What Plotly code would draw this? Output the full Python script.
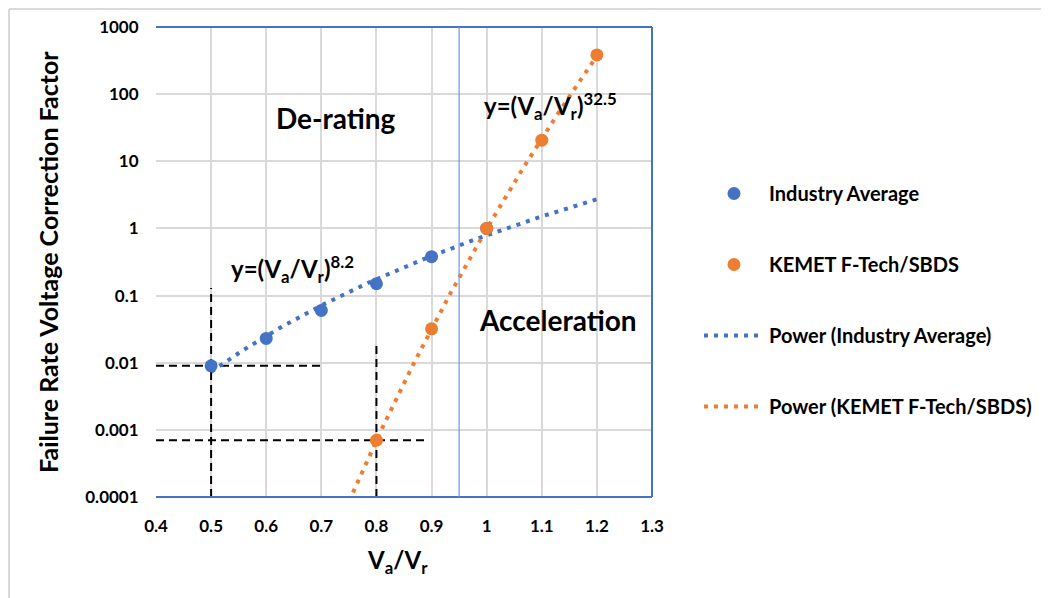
import numpy as np
import plotly.graph_objects as go

# ---------------- data ----------------
industry_ratio = [0.5, 0.6, 0.7, 0.8, 0.9, 1.0]
industry_avg = [0.009, 0.023, 0.06, 0.15, 0.38, 1.0]

kemet_ratio = [0.8, 0.9, 1.0, 1.1, 1.2]
kemet_vals = [0.0007, 0.032, 1.0, 20.6, 384.0]

industry_trend_span = [0.5, 1.2]
kemet_trend_span = [0.75, 1.2]

x_tick_vals = [0.4, 0.5, 0.6, 0.7, 0.8, 0.9, 1.0, 1.1, 1.2, 1.3]
x_tick_text = ["0.4", "0.5", "0.6", "0.7", "0.8", "0.9", "1", "1.1", "1.2", "1.3"]
y_tick_vals = [0.0001, 0.001, 0.01, 0.1, 1, 10, 100, 1000]
y_tick_text = ["0.0001", "0.001", "0.01", "0.1", "1", "10", "100", "1000"]

# dashed guide lines
guide_v05_x, guide_v05_y = [0.5, 0.5], [0.0001, 0.13]
guide_h09_x, guide_h09_y = [0.4, 0.7], [0.009, 0.009]
guide_h07_x, guide_h07_y = [0.4, 0.89], [0.0007, 0.0007]
guide_v08_x, guide_v08_y = [0.8, 0.8], [0.0001, 0.021]

boundary_ratio = 0.95

BLUE = "#4472C4"
ORANGE = "#ED7D31"
FONT = "Lato"

# figure geometry (page body has an 8px margin)
W, H = 1041, 590
ML, MR, MT, MB = 148, 397, 19, 101
PW, PH = W - ML - MR, H - MT - MB


def power_fit(xs, ys, span):
    k, c = np.polyfit(np.log(xs), np.log(ys), 1)
    xx = np.linspace(span[0], span[1], 200)
    return xx, np.exp(c) * xx ** k


fig = go.Figure()

fig.add_trace(go.Scatter(x=industry_ratio, y=industry_avg, mode="markers",
                         name="Industry Average", legendgroup="a",
                         marker=dict(color=BLUE, size=13), zorder=3))
fig.add_trace(go.Scatter(x=kemet_ratio, y=kemet_vals, mode="markers",
                         name="KEMET F-Tech/SBDS", legendgroup="b",
                         marker=dict(color=ORANGE, size=13), zorder=4))

tx, ty = power_fit(industry_ratio, industry_avg, industry_trend_span)
fig.add_trace(go.Scatter(x=tx, y=ty, mode="lines", name="Power (Industry Average)",
                         legendgroup="c",
                         line=dict(color=BLUE, width=4, dash="4px,6px"), zorder=1))
tx, ty = power_fit(kemet_ratio, kemet_vals, kemet_trend_span)
fig.add_trace(go.Scatter(x=tx, y=ty, mode="lines", name="Power (KEMET F-Tech/SBDS)",
                         legendgroup="d",
                         line=dict(color=ORANGE, width=4, dash="4px,6px"), zorder=1))

for gx, gy in [(guide_v05_x, guide_v05_y), (guide_h09_x, guide_h09_y),
               (guide_h07_x, guide_h07_y), (guide_v08_x, guide_v08_y)]:
    fig.add_trace(go.Scatter(x=gx, y=gy, mode="lines", showlegend=False,
                             hoverinfo="skip",
                             line=dict(color="black", width=2, dash="8px,5px"), zorder=0))

border_x = (1 - ML) / PW
border_y = 1 + (MT - 1) / PH
shapes = [
    # plot frame (blue)
    dict(type="line", xref="paper", yref="paper", x0=0, x1=1, y0=1, y1=1,
         line=dict(color=BLUE, width=2)),
    dict(type="line", xref="paper", yref="paper", x0=1, x1=1, y0=0, y1=1,
         line=dict(color=BLUE, width=2)),
    dict(type="line", xref="paper", yref="paper", x0=0, x1=1, y0=0, y1=0,
         line=dict(color=BLUE, width=2)),
    # de-rating / acceleration boundary
    dict(type="line", xref="x", yref="paper", x0=boundary_ratio, x1=boundary_ratio,
         y0=0, y1=1, line=dict(color="#7196d8", width=1.2)),
    # chart-area border
    dict(type="line", xref="paper", yref="paper", x0=border_x, x1=1.9, y0=border_y, y1=border_y,
         line=dict(color="#d9d9d9", width=2)),
    dict(type="line", xref="paper", yref="paper", x0=border_x, x1=border_x, y0=-0.3, y1=border_y,
         line=dict(color="#d9d9d9", width=2)),
]

tfont = dict(family=FONT, color="black", weight="bold")
annotations = [
    dict(x=0.727, y=1.64, xref="x", yref="y", text="De-rating", showarrow=False,
         xanchor="center", yanchor="middle", font=dict(size=28, **tfont)),
    dict(x=1.129, y=-1.37, xref="x", yref="y", text="Acceleration", showarrow=False,
         xanchor="center", yanchor="middle", font=dict(size=28, **tfont)),
    dict(x=1.115, y=1.83, xref="x", yref="y",
         text="y=(V<sub>a</sub>/V<sub>r</sub>)<sup>32.5</sup>", showarrow=False,
         xanchor="center", yanchor="middle", font=dict(size=24, **tfont)),
    dict(x=0.647, y=-0.60, xref="x", yref="y",
         text="y=(V<sub>a</sub>/V<sub>r</sub>)<sup>8.2</sup>", showarrow=False,
         xanchor="center", yanchor="middle", font=dict(size=24, **tfont)),
    dict(x=(40 - ML) / PW, y=0.5, xref="paper", yref="paper",
         text="Failure Rate Voltage Correction Factor", textangle=-90, showarrow=False,
         xanchor="center", yanchor="middle", font=dict(size=25, **tfont)),
    dict(x=(389 - ML) / PW, y=-(553 - 489) / PH, xref="paper", yref="paper",
         text="V<sub>a</sub>/V<sub>r</sub>", showarrow=False,
         xanchor="center", yanchor="middle", font=dict(size=24, **tfont)),
]

fig.update_layout(
    width=W, height=H,
    margin=dict(l=ML, r=MR, t=MT, b=MB, autoexpand=False),
    paper_bgcolor="white", plot_bgcolor="white",
    font=dict(family=FONT, size=17, color="black", weight="bold"),
    shapes=shapes, annotations=annotations,
    showlegend=True,
    legend=dict(x=(691 - ML) / PW, xanchor="left", y=(489 - 292) / PH, yanchor="middle",
                font=dict(family=FONT, size=20, color="black", weight="bold"),
                tracegroupgap=42, itemwidth=60, bgcolor="rgba(0,0,0,0)",
                traceorder="grouped"),
)

fig.update_xaxes(range=[0.4, 1.3], tickvals=x_tick_vals, ticktext=x_tick_text,
                 automargin=False,
                 showgrid=True, gridcolor="#d9d9d9", gridwidth=1.5,
                 zeroline=False, showline=False,
                 ticks="outside", ticklen=14, tickcolor="rgba(0,0,0,0)",
                 tickfont=dict(family=FONT, size=17, color="black", weight="bold"))
fig.update_yaxes(type="log", range=[-4, 3], tickvals=y_tick_vals, ticktext=y_tick_text,
                 automargin=False,
                 showgrid=True, gridcolor="#d9d9d9", gridwidth=1.5,
                 zeroline=False, showline=True, linecolor="#bfbfbf", linewidth=2,
                 ticks="outside", ticklen=12, tickcolor="rgba(0,0,0,0)",
                 tickfont=dict(family=FONT, size=17, color="black", weight="bold"))

fig.write_html("out.html")
